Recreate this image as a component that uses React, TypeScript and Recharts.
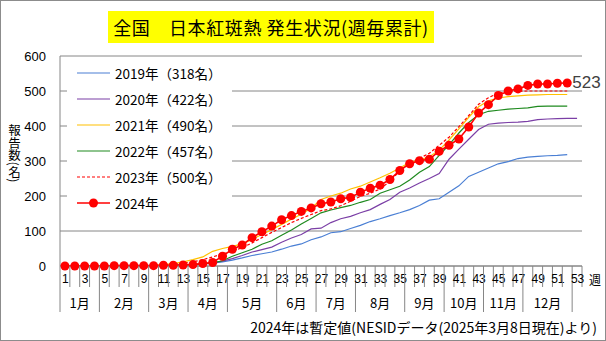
import React from 'react';
import { LineChart, Line, XAxis, YAxis, CartesianGrid } from 'recharts';

const WEEKS = [1,2,3,4,5,6,7,8,9,10,11,12,13,14,15,16,17,18,19,20,21,22,23,24,25,26,27,28,29,30,31,32,33,34,35,36,37,38,39,40,41,42,43,44,45,46,47,48,49,50,51,52,53];

const Y2019 = [0,0,0,0,0,0,0,1,1,1,1,2, 2,3,5,8,12,17,23,30,35,40,48,57, 63,75,83,95,98,107,116,127,135,144,152,161, 173,188,192,211,229,256,268,280,292,298,307,311, 313,315,316,318,null];
const Y2020 = [0,0,0,0,0,0,1,1,1,1,2,2, 3,4,6,9,14,21,30,40,47,54,68,80, 90,106,108,124,135,142,152,161,176,190,211,223, 237,250,264,305,334,362,390,405,408,410,411,413, 418,420,421,422,422];
const Y2021 = [0,0,0,0,0,0,1,1,1,2,4,7, 12,18,26,42,50,56,63,76,90,104,119,134, 148,165,190,200,208,220,228,240,252,265,280,296, 303,312,331,360,392,425,455,472,480,484,486,488, 489,490,490,490,null];
const Y2022 = [0,0,0,0,0,0,0,1,1,1,1,2, 3,4,6,9,15,28,38,48,62,72,88,103, 120,136,152,160,167,173,182,190,208,218,228,246, 268,284,316,346,380,410,432,442,445,448,450,452, 456,457,457,457,null];
const Y2023 = [0,0,0,0,0,0,1,1,1,2,3,5, 8,12,18,26,34,43,52,66,81,96,110,124, 136,147,158,163,172,185,199,208,220,242,272,294, 308,322,345,368,398,430,462,481,494,498,499,500, 500,500,500,500,null];
const Y2024 = [0,0,0,0,0,1,1,1,1,1,2,2, 3,4,7,10,28,48,60,81,98,114,132,144, 156,166,178,183,192,196,211,222,231,247,273,292, 301,305,328,345,363,397,437,461,487,500,506,516, 520,520,522,523,null];

const SERIES_KEYS = ['y2019','y2020','y2021','y2022','y2023','y2024'];
const SERIES_NAMES = ['2019年（318名）','2020年（422名）','2021年（490名）','2022年（457名）','2023年（500名）','2024年'];
const SERIES_COLORS = ['#4a7fd4','#7b3fa6','#ffc000','#1f8a1f','#ff0000','#ff0000'];
const SERIES_VALUES = [Y2019, Y2020, Y2021, Y2022, Y2023, Y2024];

const MONTH_LABELS = ['1月','2月','3月','4月','5月','6月','7月','8月','9月','10月','11月','12月'];
const MONTH_START_WEEKS = [1,5,10,14,18,23,27,31,36,40,44,48];
const LAST_MONTH_WEEK = 52;
const Y_TICKS = [0,100,200,300,400,500,600];

const TITLE = '全国\u3000日本紅斑熱 発生状況(週毎累計)';
const Y_LABEL = '報告数(名)';
const WEEK_UNIT = '週';
const FOOTNOTE = '2024年は暫定値(NESIDデータ(2025年3月8日現在)より)';

const data = WEEKS.map((w, i) => {
  const row: any = { week: w };
  SERIES_KEYS.forEach((k, s) => { row[k] = SERIES_VALUES[s][i]; });
  return row;
});

const W = 606, H = 341;
const MARGIN = { top: 56, right: 24, bottom: 20, left: 15 };
const Y_AXIS_W = 45;
const X_AXIS_H = 55;
const PLOT_L = MARGIN.left + Y_AXIS_W;
const PLOT_R = W - MARGIN.right;
const PLOT_B = H - MARGIN.bottom - X_AXIS_H;
const BW = (PLOT_R - PLOT_L) / WEEKS.length;
const AXIS_COLOR = '#868686';
const FONT = '"Liberation Sans", "Noto Sans CJK JP", sans-serif';
const JP_FONT = '"Noto Sans CJK JP", sans-serif';
const LAST_2024 = Y2024.findIndex((v) => v === null) - 1;

function WeekTick(props: any) {
  const { x, payload } = props;
  const week = payload.value;
  const left = x - BW / 2;
  const right = x + BW / 2;
  const mIdx = MONTH_START_WEEKS.indexOf(week);
  const isBoundary = mIdx >= 0 || week === LAST_MONTH_WEEK + 1;
  const isLast = week === WEEKS[WEEKS.length - 1];
  let monthLabel = null;
  if (mIdx >= 0) {
    const next = mIdx + 1 < MONTH_START_WEEKS.length ? MONTH_START_WEEKS[mIdx + 1] : LAST_MONTH_WEEK + 1;
    const cx = left + ((next - week) * BW) / 2;
    monthLabel = (
      <text x={cx} y={PLOT_B + 36} textAnchor="middle" dominantBaseline="central" fontSize={13} fill="#000" fontFamily={JP_FONT}>
        {MONTH_LABELS[mIdx]}
      </text>
    );
  }
  return (
    <g>
      <line x1={left} x2={left} y1={PLOT_B} y2={PLOT_B + (isBoundary ? 46 : 21)} stroke={AXIS_COLOR} strokeWidth={1} />
      {isLast && <line x1={right} x2={right} y1={PLOT_B} y2={PLOT_B + 21} stroke={AXIS_COLOR} strokeWidth={1} />}
      {week % 2 === 1 && (
        <text x={x + 0.5} y={PLOT_B + 13} textAnchor="middle" dominantBaseline="central" fontSize={12} fill="#000" fontFamily={FONT}>
          {week}
        </text>
      )}
      {isLast && (
        <text x={right + 13} y={PLOT_B + 13} textAnchor="middle" dominantBaseline="central" fontSize={12} fill="#000" fontFamily={JP_FONT}>
          {WEEK_UNIT}
        </text>
      )}
      {monthLabel}
    </g>
  );
}

function EndLabel(props: any) {
  const { x, y, value, index } = props;
  if (index !== LAST_2024) return null;
  return (
    <text x={x + 5} y={y} dominantBaseline="central" fontSize={17} fill="#404040" fontFamily={FONT}>
      {value}
    </text>
  );
}

function LegendBox() {
  return (
    <div style={{ position: 'absolute', left: 67, top: 58, width: 165, height: 158, background: '#fff' }}>
      {SERIES_NAMES.map((name, i) => (
        <div key={name} style={{ position: 'absolute', left: 0, top: 15 + i * 26 - 10, height: 20, display: 'flex', alignItems: 'center', whiteSpace: 'nowrap' }}>
          <svg width={48} height={20} style={{ display: 'block' }}>
            <line x1={10} x2={43} y1={10} y2={10} stroke={SERIES_COLORS[i]} strokeWidth={i === 5 ? 1.6 : 1.2} strokeDasharray={i === 4 ? '3 2' : undefined} />
            {i === 5 && <circle cx={26.5} cy={10} r={4.5} fill={SERIES_COLORS[i]} />}
          </svg>
          <span style={{ fontFamily: JP_FONT, fontSize: 13.5, color: '#000' }}>{name}</span>
        </div>
      ))}
    </div>
  );
}

export default function App() {
  return (
    <div style={{ position: 'absolute', left: 0, top: 0, width: W, height: H, background: '#fff', overflow: 'hidden' }}>
      <LineChart width={W} height={H} data={data} margin={MARGIN}>
        <CartesianGrid horizontal={true} vertical={false} stroke={AXIS_COLOR} strokeWidth={1} />
        <XAxis dataKey="week" scale="band" interval={0} height={X_AXIS_H} tickLine={false} axisLine={{ stroke: AXIS_COLOR }} tick={<WeekTick />} />
        <YAxis domain={[0, 600]} ticks={Y_TICKS} width={Y_AXIS_W} tickLine={false} axisLine={{ stroke: AXIS_COLOR }} tickMargin={8} tick={{ fontSize: 13, fill: '#000', fontFamily: FONT }} />
        {SERIES_KEYS.map((k, i) => (
          <Line
            key={k}
            type="linear"
            dataKey={k}
            name={SERIES_NAMES[i]}
            stroke={SERIES_COLORS[i]}
            strokeWidth={i === 5 ? 1.6 : 1.2}
            strokeDasharray={i === 4 ? '3 2' : undefined}
            dot={i === 5 ? { r: 4.5, fill: SERIES_COLORS[i], stroke: SERIES_COLORS[i], strokeWidth: 0 } : false}
            activeDot={false}
            isAnimationActive={false}
            label={i === 5 ? <EndLabel /> : undefined}
          />
        ))}
      </LineChart>
      <LegendBox />
      <div style={{ position: 'absolute', left: 108, top: 11, width: 326, height: 32, background: '#ffff00', fontFamily: JP_FONT, fontSize: 18, letterSpacing: '0.6px', lineHeight: '32px', textAlign: 'center', color: '#000', whiteSpace: 'nowrap' }}>
        {TITLE}
      </div>
      <div style={{ position: 'absolute', left: 7, top: 124, writingMode: 'vertical-rl', fontFamily: JP_FONT, fontSize: 12.5, lineHeight: '14px', color: '#000' }}>
        {Y_LABEL}
      </div>
      <div style={{ position: 'absolute', right: 9, top: 317, fontFamily: JP_FONT, fontSize: 14, lineHeight: '20px', color: '#000', whiteSpace: 'nowrap' }}>
        {FOOTNOTE}
      </div>
      <div style={{ position: 'absolute', left: 0, top: 0, width: W, height: H, boxSizing: 'border-box', border: '1px solid #8c8c8c', pointerEvents: 'none' }} />
    </div>
  );
}
